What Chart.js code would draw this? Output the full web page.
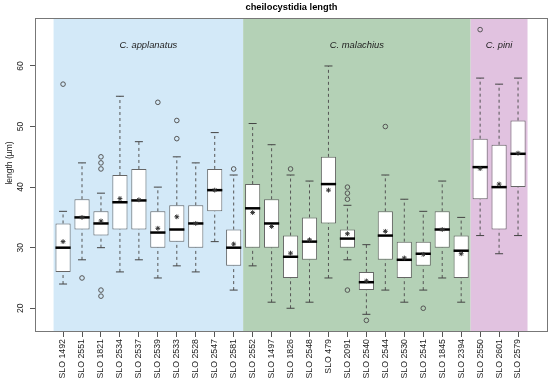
<!DOCTYPE html>
<html>
<head>
<meta charset="utf-8">
<script src="https://cdn.jsdelivr.net/npm/chart.js@4.4.1/dist/chart.umd.min.js"></script>
<style>
  html, body { margin: 0; padding: 0; background: #fff; }
  canvas { display: block; }
</style>
</head>
<body>
<canvas id="chart" width="550" height="378" style="width:550px;height:378px"></canvas>
<script>
// strains, in plotting order
const names = ['SLO 1492', 'SLO 2551', 'SLO 1821', 'SLO 2534', 'SLO 2537', 'SLO 2539', 'SLO 2533', 'SLO 2528', 'SLO 2547', 'SLO 2581',
    'SLO 2552', 'SLO 1497', 'SLO 1826', 'SLO 2548', 'SLO 479', 'SLO 2091', 'SLO 2540', 'SLO 2544', 'SLO 2530', 'SLO 2541', 'SLO 1845', 'SLO 2394',
    'SLO 2550', 'SLO 2601', 'SLO 2579'];

// box statistics (µm)
const whiskerLow = [24, 28, 30, 26, 28, 25, 27, 26, 31, 23, 27, 21, 20, 21, 25, 28, 19, 23, 21, 23, 25, 21, 32, 29, 32];
const q1 = [26, 33, 32, 33, 33, 30, 31, 30, 36, 27, 30, 30, 25, 28, 34, 30, 23, 28, 25, 27, 30, 25, 38, 33, 40];
const medians = [30, 35, 34, 37.5, 37.8, 32.5, 33, 34, 39.5, 30, 36.5, 34, 28.5, 31, 40.5, 31.5, 24.3, 32, 28, 29, 33, 29.5, 43.3, 40, 45.5];
const q3 = [34, 38, 36, 42, 43, 36, 37, 37, 43, 33, 40.5, 38, 32, 35, 45, 33, 26, 36, 31, 31, 36, 32, 48, 47, 51];
const whiskerHigh = [36, 44, 39, 55, 47.5, 40, 45, 44, 49, 42, 50.5, 47, 42, 41, 60, 37, 30.5, 42, 38, 36, 41, 35, 58, 57, 58];
const means = [31, 35, 34.4, 38.1, 37.9, 33.2, 35.1, 34, 39.5, 30.6, 35.8, 33.5, 29.1, 31.3, 39.5, 32.3, 24.5, 32.7, 28.3, 28.9, 33, 29, 43.05, 40.5, 45.6];
const outliers = [[57], [25], [45, 44, 43, 23, 22], [], [], [54], [51, 48], [], [], [43],
    [], [], [43], [], [], [40, 39, 38, 23], [18], [50], [], [20], [], [],
    [66], [], []];

// species groups (box index ranges)
const groupNames = ['C. applanatus', 'C. malachius', 'C. pini'];
const groupFrom = [0.5, 10.5, 22.5];
const groupTo = [10.5, 22.5, 25.5];
const groupLabelX = [5.5, 16.5, 24];

const yTicks = [20, 30, 40, 50, 60];

const groupColors = ['#d3e9f8', '#b4d1b6', '#e1c2e0'];
const FONT = "'Liberation Sans', Arial, sans-serif";

const pos = names.map((n, i) => i + 1);

// dashed whiskers: segment low->q1 and q3->high, separated by gaps
const whiskerPts = [];
pos.forEach((x, i) => {
    whiskerPts.push({x, y: whiskerLow[i]}, {x, y: q1[i]}, {x, y: null});
    whiskerPts.push({x, y: q3[i]}, {x, y: whiskerHigh[i]}, {x, y: null});
});

const capPts = [];
pos.forEach((x, i) => capPts.push({x, y: whiskerLow[i]}, {x, y: whiskerHigh[i]}));

const outlierPts = [];
outliers.forEach((list, i) => list.forEach(v => outlierPts.push({x: pos[i], y: v})));

const decor = {
    id: 'decor',
    beforeDatasetsDraw(chart) {
        const {ctx, chartArea: a, scales: {x}} = chart;
        ctx.save();
        groupNames.forEach((g, i) => {
            const l = x.getPixelForValue(groupFrom[i]);
            const r = x.getPixelForValue(groupTo[i]);
            ctx.fillStyle = groupColors[i];
            ctx.fillRect(l, a.top, r - l, a.bottom - a.top);
        });
        ctx.restore();
    },
    afterDatasetsDraw(chart) {
        const {ctx, chartArea: a, scales: {x, y}} = chart;
        ctx.save();
        // group names
        ctx.fillStyle = '#222';
        ctx.font = `italic 9.4px ${FONT}`;
        ctx.textAlign = 'center';
        ctx.textBaseline = 'middle';
        groupNames.forEach((g, i) => {
            ctx.fillText(g, x.getPixelForValue(groupLabelX[i]), y.getPixelForValue(63.4));
        });
        // frame
        ctx.strokeStyle = '#777';
        ctx.lineWidth = 1;
        ctx.strokeRect(a.left + 0.5, a.top + 0.5, a.right - a.left - 1, a.bottom - a.top - 1);
        ctx.restore();
    },
    afterDraw(chart) {
        const {ctx, chartArea: a, scales: {y}} = chart;
        ctx.save();
        // title
        ctx.fillStyle = '#000';
        ctx.font = `bold 9.3px ${FONT}`;
        ctx.textAlign = 'center';
        ctx.textBaseline = 'middle';
        ctx.fillText('cheilocystidia length', (a.left + a.right) / 2, 7);
        // y tick labels, rotated like the reference
        ctx.fillStyle = '#222';
        ctx.font = `8.5px ${FONT}`;
        y.ticks.forEach(t => {
            ctx.save();
            ctx.translate(21, y.getPixelForValue(t.value));
            ctx.rotate(-Math.PI / 2);
            ctx.fillText(String(t.value), 0, 0);
            ctx.restore();
        });
        // y axis title
        ctx.save();
        ctx.translate(10, 163);
        ctx.rotate(-Math.PI / 2);
        ctx.fillText('length (µm)', 0, 0);
        ctx.restore();
        ctx.restore();
    }
};

new Chart(document.getElementById('chart'), {
    type: 'bar',
    data: {
        datasets: [
            {
                type: 'line',
                data: whiskerPts,
                borderColor: '#555',
                borderWidth: 1,
                borderDash: [3, 3],
                pointRadius: 0,
                spanGaps: false,
                order: 6
            },
            {
                type: 'scatter',
                data: capPts,
                pointStyle: 'line',
                pointRadius: 4,
                borderColor: '#444',
                borderWidth: 1,
                order: 5
            },
            {
                type: 'bar',
                data: pos.map((x, i) => ({x, y: [q1[i], q3[i]]})),
                backgroundColor: '#ffffff',
                borderColor: '#666',
                borderWidth: 1,
                borderSkipped: false,
                barPercentage: 0.8,
                categoryPercentage: 1,
                order: 4
            },
            {
                type: 'scatter',
                data: pos.map((x, i) => ({x, y: medians[i]})),
                pointStyle: 'line',
                pointRadius: 7.6,
                borderColor: '#000',
                borderWidth: 2.5,
                order: 3
            },
            {
                type: 'scatter',
                data: pos.map((x, i) => ({x, y: means[i]})),
                pointStyle: 'star',
                pointRadius: 2.4,
                borderColor: '#333',
                borderWidth: 1,
                order: 2
            },
            {
                type: 'scatter',
                data: outlierPts,
                pointStyle: 'circle',
                pointRadius: 2.3,
                backgroundColor: 'rgba(0,0,0,0)',
                borderColor: '#555',
                borderWidth: 1,
                order: 1
            }
        ]
    },
    options: {
        responsive: false,
        animation: false,
        events: [],
        layout: {autoPadding: false, padding: {top: 18, right: 2, left: 0, bottom: 0}},
        plugins: {
            legend: {display: false},
            tooltip: {enabled: false},
            title: {display: false}
        },
        scales: {
            x: {
                type: 'linear',
                offset: false,
                min: -0.48,
                max: 26.58,
                bounds: 'data',
                afterBuildTicks: s => { s.ticks = pos.map(v => ({value: v})); },
                afterFit: s => { s.height = 46; s.paddingLeft = 0; s.paddingRight = 0; },
                ticks: {
                    autoSkip: false,
                    minRotation: 90,
                    maxRotation: 90,
                    padding: 2,
                    color: '#222',
                    font: {size: 8.8, family: FONT},
                    callback: v => names[v - 1]
                },
                grid: {offset: false, drawOnChartArea: false, drawTicks: true, tickLength: 5, color: '#555'},
                border: {display: false}
            },
            y: {
                min: 16.08,
                max: 67.92,
                bounds: 'data',
                afterBuildTicks: s => { s.ticks = yTicks.map(v => ({value: v})); },
                afterFit: s => { s.width = 35; s.paddingTop = 0; s.paddingBottom = 0; },
                ticks: {display: false},
                grid: {drawOnChartArea: false, drawTicks: true, tickLength: 5, color: '#555'},
                border: {display: false}
            }
        }
    },
    plugins: [decor]
});
</script>
</body>
</html>
